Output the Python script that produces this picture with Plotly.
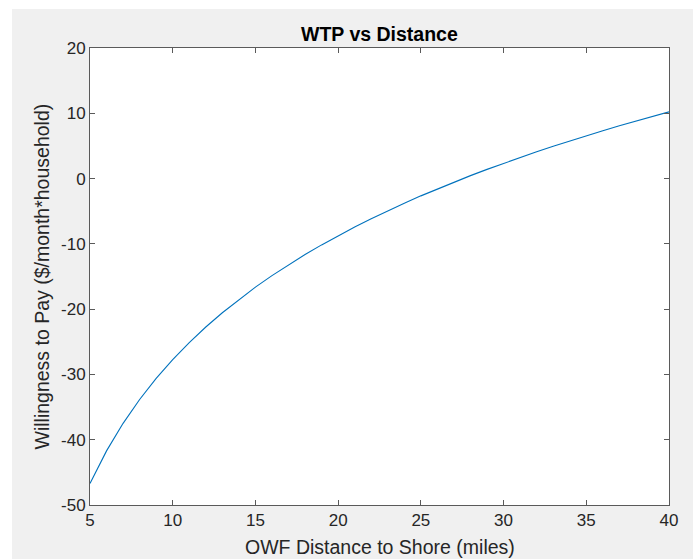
import plotly.graph_objects as go

distance = [5, 6, 7, 8, 9, 10, 11, 12, 13, 14, 15, 16, 17, 18, 19, 20, 21, 22,
            23, 24, 25, 26, 27, 28, 29, 30, 31, 32, 33, 34, 35, 36, 37, 38, 39, 40]
wtp = [-46.70, -41.71, -37.49, -33.84, -30.61, -27.73, -25.12, -22.74, -20.55,
       -18.52, -16.63, -14.86, -13.20, -11.64, -10.16, -8.76, -7.42, -6.15,
       -4.93, -3.77, -2.65, -1.58, -0.55, 0.45, 1.41, 2.34, 3.24, 4.10, 4.95,
       5.77, 6.56, 7.33, 8.08, 8.81, 9.52, 10.22]
x_ticks = [5, 10, 15, 20, 25, 30, 35, 40]
y_ticks = [-50, -40, -30, -20, -10, 0, 10, 20]

W, H = 693, 559
L, R, T, B = 90, 24, 48, 54
pw, ph = W - L - R, H - T - B

fig = go.Figure(go.Scatter(x=distance, y=wtp, mode="lines",
                           line=dict(color="#0072BD", width=1.1),
                           hoverinfo="skip"))

axis_common = dict(showgrid=False, zeroline=False, showline=True,
                   linecolor="#5a5a5a", linewidth=1, mirror="ticks",
                   ticks="inside", ticklen=5, tickcolor="#5a5a5a",
                   tickfont=dict(family="Liberation Sans, Arial", size=17, color="#262626"))

fig.update_layout(
    width=W, height=H,
    margin=dict(l=L, r=R, t=T, b=B),
    paper_bgcolor="#f0f0f0", plot_bgcolor="white",
    showlegend=False,
    xaxis=dict(range=[5, 40], tickvals=x_ticks,
               ticktext=[str(v) for v in x_ticks], **axis_common),
    yaxis=dict(range=[-50, 20], tickvals=y_ticks,
               ticktext=[str(v) for v in y_ticks], **axis_common),
    shapes=[
        dict(type="rect", xref="paper", yref="paper", layer="above",
             x0=-L / pw, x1=(12 - L) / pw, y0=-B / ph, y1=(H - B) / ph,
             fillcolor="white", line=dict(width=0)),
        dict(type="rect", xref="paper", yref="paper", layer="above",
             x0=-L / pw, x1=(W - L) / pw, y0=(H - B - 9) / ph, y1=(H - B) / ph,
             fillcolor="white", line=dict(width=0)),
    ],
    annotations=[
        dict(text="<b>WTP vs Distance</b>", xref="paper", yref="paper",
             x=0.5, y=(H - B - 34) / ph, xanchor="center", yanchor="middle",
             showarrow=False,
             font=dict(family="Liberation Sans, Arial", size=19.5, color="black")),
        dict(text="OWF Distance to Shore (miles)", xref="paper", yref="paper",
             x=0.5, y=(H - B - 547) / ph, xanchor="center", yanchor="middle",
             showarrow=False,
             font=dict(family="Liberation Sans, Arial", size=19.5, color="#262626")),
        dict(text="Willingness to Pay ($/month*household)", xref="paper", yref="paper",
             x=(41 - L) / pw, y=0.5, xanchor="center", yanchor="middle",
             textangle=-90, showarrow=False,
             font=dict(family="Liberation Sans, Arial", size=19.5, color="#262626")),
    ],
)

fig.write_html("out.html", config={"displayModeBar": False},
               post_script="document.body.style.margin='0';document.body.style.overflow='hidden';")
